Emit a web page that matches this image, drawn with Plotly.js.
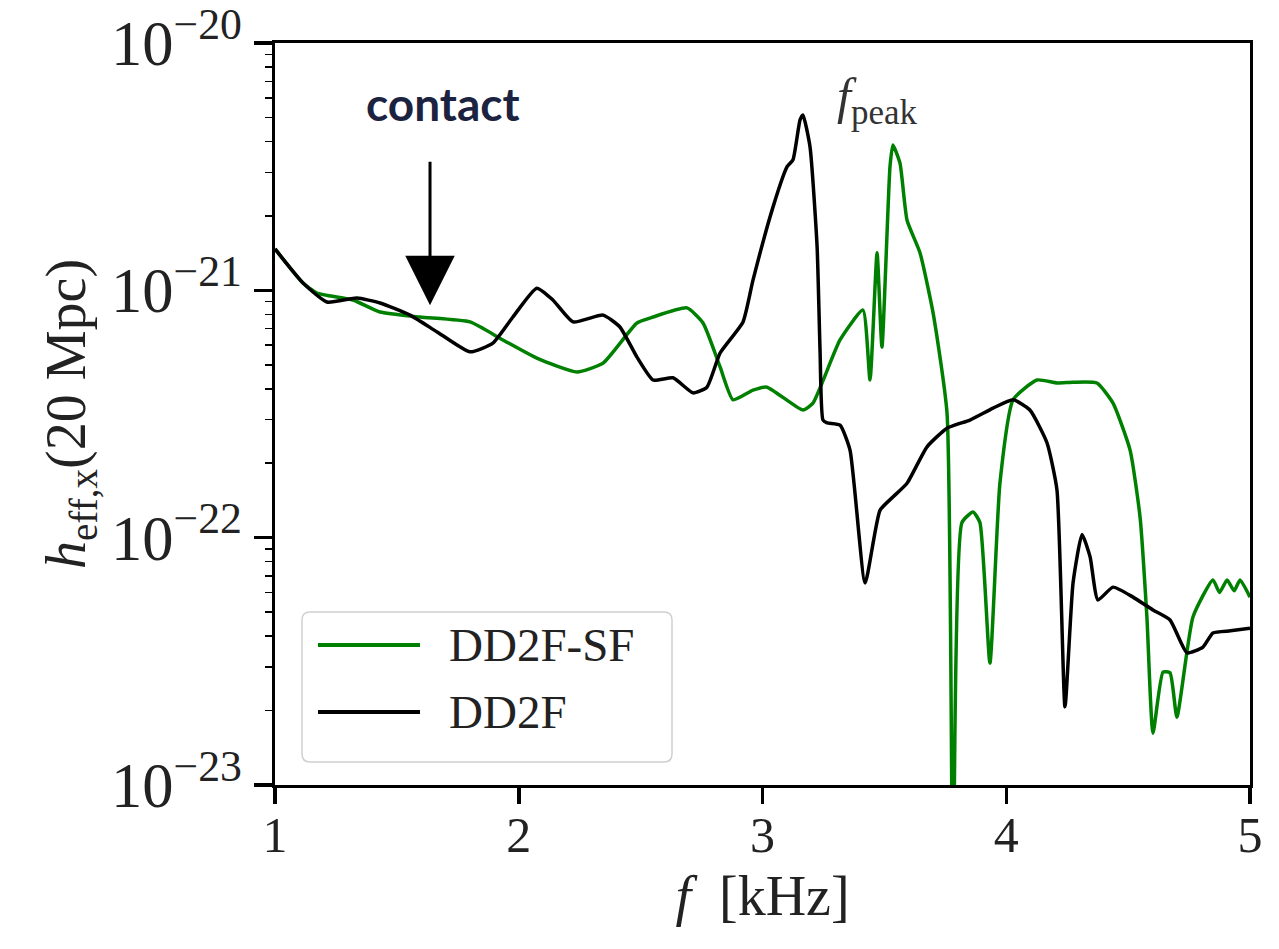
<!DOCTYPE html>
<html>
<head>
<meta charset="utf-8">
<script src="https://cdn.plot.ly/plotly-3.0.1.min.js"></script>
<style>html,body{margin:0;padding:0;background:#fff;}#chart{width:1279px;height:949px;}</style>
</head>
<body>
<div id="chart"></div>
<script>
// DD2F (black)
const fDD2F = [1.0, 1.115, 1.213, 1.336, 1.431, 1.554, 1.665, 1.800, 1.894, 1.976, 2.074, 2.140, 2.223, 2.346, 2.415, 2.485, 2.551, 2.633, 2.715, 2.772, 2.826, 2.920, 2.961, 3.043, 3.101, 3.125, 3.154, 3.166, 3.195, 3.224, 3.236, 3.248, 3.265, 3.318, 3.359, 3.421, 3.482, 3.535, 3.593, 3.675, 3.757, 3.851, 3.946, 4.028, 4.097, 4.167, 4.208, 4.241, 4.274, 4.311, 4.344, 4.376, 4.438, 4.520, 4.602, 4.672, 4.742, 4.807, 4.848, 4.920, 5.0];
const hDD2F = [1.47e-21, 1.07e-21, 8.97e-22, 9.31e-22, 8.89e-22, 7.94e-22, 6.79e-22, 5.64e-22, 6.12e-22, 7.80e-22, 1.02e-21, 9.14e-22, 7.45e-22, 7.94e-22, 7.11e-22, 5.37e-22, 4.34e-22, 4.43e-22, 3.85e-22, 4.06e-22, 5.58e-22, 7.45e-22, 1.10e-21, 2.17e-21, 3.16e-21, 3.37e-21, 4.89e-21, 5.12e-21, 3.80e-21, 1.50e-21, 5.74e-22, 2.99e-22, 2.91e-22, 2.85e-22, 2.26e-22, 6.56e-23, 1.29e-22, 1.46e-22, 1.66e-22, 2.33e-22, 2.77e-22, 2.99e-22, 3.34e-22, 3.61e-22, 3.28e-22, 2.42e-22, 1.56e-22, 2.07e-23, 6.56e-23, 1.03e-22, 8.36e-23, 5.60e-23, 6.31e-23, 5.75e-23, 5.10e-23, 4.65e-23, 3.42e-23, 3.61e-23, 4.12e-23, 4.20e-23, 4.30e-23];

// DD2F-SF (green)
const fSF = [1.0, 1.115, 1.172, 1.320, 1.431, 1.595, 1.800, 1.935, 2.074, 2.239, 2.346, 2.485, 2.551, 2.690, 2.756, 2.826, 2.879, 2.961, 3.018, 3.166, 3.207, 3.318, 3.412, 3.441, 3.470, 3.490, 3.523, 3.535, 3.564, 3.593, 3.646, 3.700, 3.757, 3.782, 3.818, 3.864, 3.892, 3.933, 3.974, 4.028, 4.126, 4.208, 4.274, 4.372, 4.438, 4.508, 4.549, 4.577, 4.602, 4.643, 4.672, 4.700, 4.766, 4.848, 4.875, 4.906, 4.935, 4.959, 5.0];
const hSF = [1.47e-21, 1.07e-21, 9.75e-22, 9.14e-22, 8.17e-22, 7.80e-22, 7.45e-22, 6.30e-22, 5.32e-22, 4.68e-22, 5.08e-22, 7.38e-22, 7.80e-22, 8.49e-22, 7.38e-22, 4.90e-22, 3.61e-22, 3.95e-22, 4.06e-22, 3.28e-22, 3.50e-22, 6.30e-22, 8.32e-22, 4.34e-22, 1.42e-21, 5.90e-22, 3.16e-21, 3.87e-21, 3.27e-21, 1.92e-21, 1.42e-21, 8.09e-22, 3.19e-22, 3.0e-24, 1.15e-22, 1.27e-22, 1.15e-22, 3.11e-23, 1.66e-22, 3.61e-22, 4.34e-22, 4.22e-22, 4.25e-22, 4.22e-22, 3.50e-22, 2.26e-22, 1.21e-22, 4.78e-23, 1.62e-23, 2.86e-23, 2.84e-23, 1.88e-23, 4.78e-23, 6.75e-23, 6.0e-23, 6.75e-23, 6.1e-23, 6.75e-23, 5.75e-23];

const seriesNames = ["DD2F-SF", "DD2F"];
const seriesColors = ["#008000", "#000000"];
const xTickVals = [1, 2, 3, 4, 5];

const serif = "Liberation Serif, DejaVu Serif, serif";

// plot area in px (for placing the hand-drawn legend box in paper coords)
const W = 1279, H = 949, ML = 275, MR = 29, MT = 43, MB = 164;
const PW = W - ML - MR, PH = H - MT - MB;
const px = v => (v - ML) / PW;
const py = v => (H - MB - v) / PH;

const traces = [
  {x: fSF, y: hSF, mode: "lines", name: seriesNames[0], showlegend: false,
   line: {color: seriesColors[0], width: 3.5, shape: "spline", smoothing: 0.5}},
  {x: fDD2F, y: hDD2F, mode: "lines", name: seriesNames[1], showlegend: false,
   line: {color: seriesColors[1], width: 3.5, shape: "spline", smoothing: 0.5}}
];

// legend box with rounded corners
function roundRect(x0, y0, x1, y1, r) {
  const X = v => px(v).toFixed(5), Y = v => py(v).toFixed(5);
  return `M ${X(x0 + r)} ${Y(y0)} L ${X(x1 - r)} ${Y(y0)} Q ${X(x1)} ${Y(y0)} ${X(x1)} ${Y(y0 + r)} ` +
         `L ${X(x1)} ${Y(y1 - r)} Q ${X(x1)} ${Y(y1)} ${X(x1 - r)} ${Y(y1)} L ${X(x0 + r)} ${Y(y1)} ` +
         `Q ${X(x0)} ${Y(y1)} ${X(x0)} ${Y(y1 - r)} L ${X(x0)} ${Y(y0 + r)} Q ${X(x0)} ${Y(y0)} ${X(x0 + r)} ${Y(y0)} Z`;
}
const legendRows = [645, 712];
const shapes = [
  {type: "path", xref: "paper", yref: "paper", path: roundRect(302, 612, 672, 762, 8),
   line: {color: "#d0d0d0", width: 1.5}, fillcolor: "rgba(255,255,255,0.85)", layer: "above"}
];
const legendAnn = [];
seriesNames.forEach((n, i) => {
  shapes.push({type: "line", xref: "paper", yref: "paper", x0: px(318), x1: px(420), y0: py(legendRows[i]), y1: py(legendRows[i]),
               line: {color: seriesColors[i], width: 4}, layer: "above"});
  legendAnn.push({xref: "paper", yref: "paper", x: px(447), y: py(legendRows[i]), xanchor: "left", yanchor: "middle",
                  showarrow: false, text: n, font: {family: serif, size: 47, color: "#222"}});
});

const layout = {
  width: W, height: H,
  margin: {l: ML, r: MR, t: MT, b: MB},
  paper_bgcolor: "#fff", plot_bgcolor: "#fff",
  showlegend: false,
  font: {family: serif, color: "#222", size: 42},
  xaxis: {
    range: [1, 5], tickvals: xTickVals, ticktext: xTickVals.map(String),
    showgrid: false, zeroline: false, showline: true, linecolor: "#000", linewidth: 3, mirror: true,
    ticks: "outside", ticklen: 16, tickwidth: 3.5, tickcolor: "#000", ticklabelstandoff: -12,
    ticklabeloverflow: "allow",
    tickfont: {family: serif, size: 50, color: "#222"},
    title: {text: "<i>f</i>  [kHz]", font: {family: serif, size: 56, color: "#222"}, standoff: 14}
  },
  yaxis: {
    type: "log", range: [-23, -20], dtick: 1, exponentformat: "power", showexponent: "all",
    showgrid: false, zeroline: false, showline: true, linecolor: "#000", linewidth: 3, mirror: true,
    ticks: "outside", ticklen: 18, tickwidth: 3.5, tickcolor: "#000", ticklabelstandoff: 2,
    ticklabeloverflow: "allow",
    minor: {dtick: "D1", ticks: "outside", ticklen: 7, tickwidth: 1.5, tickcolor: "#000", showgrid: false},
    tickfont: {family: serif, size: 50, color: "#222"},
    title: {text: "<i>h</i><sub>eff,x</sub>(20 Mpc)", font: {family: serif, size: 56, color: "#222"}, standoff: 8}
  },
  shapes: shapes,
  annotations: [
    {x: 1.636, y: Math.log10(8.7e-22), xref: "x", yref: "y", showarrow: true,
     ax: 0, ay: -145, arrowhead: 2, arrowsize: 3.3, arrowwidth: 3, arrowcolor: "#000", text: ""},
    {x: 1.689, y: -20.243, xref: "x", yref: "y", showarrow: false,
     text: "<b>contact</b>", font: {family: "Lato, Open Sans, sans-serif", size: 46, color: "#1b2340"}},
    {x: 3.47, y: -20.23, xref: "x", yref: "y", showarrow: false,
     text: "<i>f</i><sub>peak</sub>", font: {family: serif, size: 50, color: "#333"}}
  ].concat(legendAnn)
};

Plotly.newPlot("chart", traces, layout, {displayModeBar: false, staticPlot: true});
</script>
</body>
</html>
